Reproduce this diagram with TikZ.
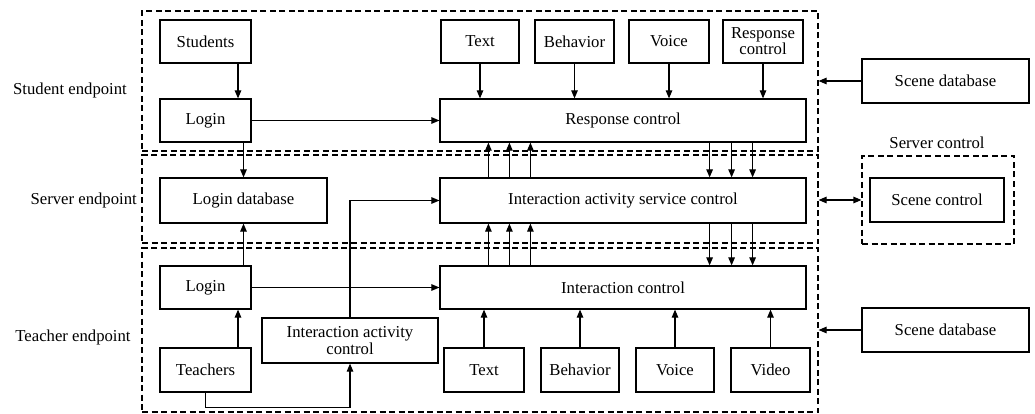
\documentclass[tikz,border=0pt]{standalone}
\usepackage{fontspec}
\setmainfont{Liberation Serif}
\usetikzlibrary{arrows.meta}
\begin{document}
\begin{tikzpicture}[x=1pt,y=-1pt,
  txt/.style={font=\fontsize{16.7pt}{19pt}\selectfont},
  box/.style={txt,draw,line width=1.2pt,inner sep=0pt,align=center},
  dbox/.style={draw,line width=1.1pt,dash pattern=on 6pt off 3.5pt,inner sep=0pt},
  arr/.style={line width=1.1pt,-{Triangle[length=8pt,width=6.5pt]}},
  darr/.style={line width=1.1pt,{Triangle[length=8pt,width=6.5pt]}-{Triangle[length=8pt,width=6.5pt]}},
  ln/.style={line width=1.1pt}]
\useasboundingbox (0,0) rectangle (1035,414);
% dashed regions
\node[dbox,minimum width=676pt,minimum height=140pt] (studbox) at (480,81) {};
\node[dbox,minimum width=676pt,minimum height=88pt] (servbox) at (480,199) {};
\node[dbox,minimum width=676pt,minimum height=164pt] (teachbox) at (480,330) {};
\node[dbox,minimum width=152pt,minimum height=88pt] (ctlbox) at (938,200) {};
% labels
\node[txt] (lstud) at (70,90) {Student endpoint};
\node[txt,anchor=east,inner sep=0pt] (lserv) at (137,200) {Server endpoint};
\node[txt] (lteach) at (73,337) {Teacher endpoint};
\node[txt] (lctl) at (937,143) {Server control};
% left column
\node[box,minimum width=91pt,minimum height=43pt] (students) at (205.5,41.5) {Students};
\node[box,minimum width=91pt,minimum height=43pt] (login1) at (205.5,120.5) {Login};
\node[box,minimum width=167pt,minimum height=45pt] (logindb) at (243.5,200.5) {Login database};
\node[box,minimum width=91pt,minimum height=43pt] (login2) at (205.5,287.5) {Login};
\node[box,minimum width=91pt,minimum height=44pt] (teachers) at (205.5,370) {Teachers};
\node[box,minimum width=176pt,minimum height=45pt] (iac) at (350,340.5) {Interaction activity\\[-2pt]control};
% big boxes
\node[box,minimum width=366pt,minimum height=43pt] (rc) at (623,120.5) {Response control};
\node[box,minimum width=366pt,minimum height=45pt] (iasc) at (623,200.5) {Interaction activity service control};
\node[box,minimum width=366pt,minimum height=43pt] (ic) at (623,287.5) {Interaction control};
% top inputs
\node[box,minimum width=78pt,minimum height=43pt] (text1) at (480,41.5) {Text};
\node[box,minimum width=79pt,minimum height=43pt] (beh1) at (574.5,41.5) {Behavior};
\node[box,minimum width=80pt,minimum height=43pt] (voice1) at (669,41.5) {Voice};
\node[box,minimum width=80pt,minimum height=43pt] (resp1) at (763,41.5) {Response\\[-3pt]control};
% bottom inputs
\node[box,minimum width=80pt,minimum height=44pt] (text2) at (484,370) {Text};
\node[box,minimum width=78pt,minimum height=44pt] (beh2) at (580,370) {Behavior};
\node[box,minimum width=78pt,minimum height=44pt] (voice2) at (675,370) {Voice};
\node[box,minimum width=79pt,minimum height=44pt] (video2) at (770.5,370) {Video};
% right side
\node[box,minimum width=167pt,minimum height=44pt] (sdb1) at (945.5,81) {Scene database};
\node[box,minimum width=134pt,minimum height=44pt] (sctl) at (937,200) {Scene control};
\node[box,minimum width=167pt,minimum height=44pt] (sdb2) at (945.5,330) {Scene database};
% connectors
\draw[arr] ([xshift=32.5pt]students.south) -- ([xshift=32.5pt]login1.north);
\draw[arr] (login1.south -| logindb.north) -- (logindb.north);
\draw[arr] (login2.north -| logindb.south) -- (logindb.south);
\draw[arr] ([xshift=32.5pt]teachers.north) -- ([xshift=32.5pt]login2.south);
\draw[arr] (teachers.south) -- ++(0,15) -| (iac.south);
\draw[arr] (iac.north) |- (iasc.west);
\draw[arr] (login1.east) -- (rc.west);
\draw[arr] (login2.east) -- (ic.west);
\foreach \n in {text1,beh1,voice1,resp1}{\draw[arr] (\n.south) -- (\n.south |- rc.north);}
\foreach \n in {text2,beh2,voice2,video2}{\draw[arr] (\n.north) -- (\n.north |- ic.south);}
\foreach \d in {49,70,91}{
  \draw[arr] ([xshift=\d pt]iasc.north west) -- ([xshift=\d pt]rc.south west);
  \draw[arr] ([xshift=\d pt]ic.north west) -- ([xshift=\d pt]iasc.south west);}
\foreach \d in {97,75,54}{
  \draw[arr] ([xshift=-\d pt]rc.south east) -- ([xshift=-\d pt]iasc.north east);
  \draw[arr] ([xshift=-\d pt]iasc.south east) -- ([xshift=-\d pt]ic.north east);}
\draw[arr] (sdb1.west) -- (sdb1.west -| studbox.east);
\draw[arr] (sdb2.west) -- (sdb2.west -| teachbox.east);
\draw[darr] (servbox.east |- sctl.west) -- (ctlbox.west |- sctl.west);
\end{tikzpicture}
\end{document}
